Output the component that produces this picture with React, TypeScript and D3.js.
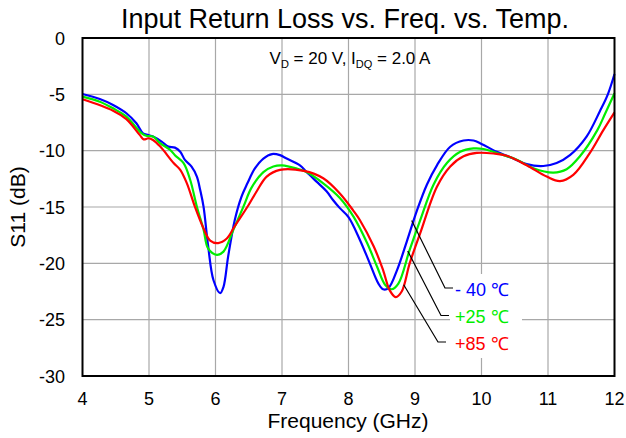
import React from "react";
import * as d3 from "d3";

const title = "Input Return Loss vs. Freq. vs. Temp.";
const xTicks = [4, 5, 6, 7, 8, 9, 10, 11, 12];
const yTicks = [0, -5, -10, -15, -20, -25, -30];

const freqM40 = [4.0, 4.26, 4.46, 4.66, 4.81, 4.91, 4.99, 5.06, 5.19, 5.29, 5.39, 5.47, 5.54, 5.64, 5.72, 5.77, 5.82, 5.89, 5.97, 6.07, 6.12, 6.19, 6.29, 6.39, 6.48, 6.59, 6.72, 6.85, 6.97, 7.07, 7.27, 7.37, 7.52, 7.67, 7.77, 7.87, 8.0, 8.17, 8.32, 8.45, 8.52, 8.6, 8.73, 8.88, 9.03, 9.18, 9.33, 9.53, 9.73, 9.88, 10.0, 10.23, 10.48, 10.68, 10.93, 11.13, 11.33, 11.58, 11.78, 11.9, 12.0];
const s11M40 = [-4.97, -5.41, -5.94, -6.68, -7.57, -8.46, -8.61, -8.75, -9.2, -9.64, -9.73, -10.09, -10.82, -11.42, -12.3, -13.5, -14.97, -18.5, -21.5, -22.65, -22.1, -19.4, -16.15, -14.1, -12.9, -11.6, -10.7, -10.3, -10.4, -10.7, -11.3, -11.9, -12.75, -13.6, -14.4, -15.1, -15.9, -17.9, -20.0, -21.8, -22.3, -22.2, -20.6, -18.0, -15.3, -13.0, -11.3, -9.65, -9.1, -9.1, -9.4, -10.1, -10.7, -11.2, -11.36, -11.1, -10.4, -8.75, -6.5, -5.0, -3.2];

const freqP25 = [4.0, 4.26, 4.46, 4.66, 4.89, 4.97, 5.06, 5.17, 5.32, 5.39, 5.52, 5.62, 5.72, 5.82, 5.89, 6.02, 6.12, 6.27, 6.42, 6.54, 6.72, 6.87, 7.0, 7.23, 7.37, 7.62, 7.87, 8.08, 8.28, 8.43, 8.55, 8.65, 8.75, 8.92, 9.08, 9.28, 9.48, 9.68, 9.88, 10.03, 10.28, 10.53, 10.78, 11.08, 11.28, 11.48, 11.74, 11.86, 12.0];
const s11P25 = [-5.2, -5.65, -6.24, -6.98, -8.46, -8.7, -8.75, -9.35, -9.94, -10.4, -11.1, -12.6, -14.97, -17.0, -18.7, -19.25, -18.96, -17.0, -14.97, -13.3, -11.9, -11.4, -11.3, -11.6, -11.9, -12.9, -14.2, -15.9, -18.2, -20.3, -21.9, -22.3, -21.8, -18.8, -16.15, -13.0, -11.1, -10.1, -9.8, -9.85, -10.3, -10.8, -11.56, -11.95, -11.65, -10.5, -8.2, -6.7, -4.9];

const freqP85 = [4.0, 4.46, 4.66, 4.86, 4.92, 4.99, 5.06, 5.17, 5.37, 5.47, 5.57, 5.69, 5.82, 5.92, 6.04, 6.17, 6.29, 6.5, 6.62, 6.77, 6.97, 7.33, 7.62, 7.87, 8.07, 8.17, 8.38, 8.52, 8.62, 8.71, 8.8, 8.92, 9.08, 9.33, 9.53, 9.73, 9.93, 10.18, 10.38, 10.68, 10.98, 11.18, 11.38, 11.63, 11.83, 12.0];
const s11P85 = [-5.44, -6.45, -7.2, -8.6, -9.0, -8.9, -9.05, -9.64, -11.1, -11.7, -12.9, -14.97, -16.9, -17.98, -18.2, -17.8, -16.7, -14.8, -13.6, -12.3, -11.7, -11.8, -12.45, -13.8, -15.3, -16.15, -18.5, -20.6, -22.4, -23.0, -22.5, -20.0, -17.3, -13.2, -11.4, -10.5, -10.2, -10.25, -10.45, -11.3, -12.3, -12.7, -12.15, -10.2, -8.2, -6.6];

const seriesNames = ["- 40 \u2103", "+25 \u2103", "+85 \u2103"];
const seriesColors = ["#0000ff", "#00ee00", "#ff0000"];
// leader anchor frequencies and values (on each curve)
const leaderFreq = [8.95, 8.89, 8.83];
const leaderVal = [-16.2, -18.9, -21.9];

export default function App() {
  const W = 626, H = 438;
  const L = 82.5, R = 614.5, T = 38, B = 376;
  const x = d3.scaleLinear().domain([4, 12]).range([L, R]);
  const y = d3.scaleLinear().domain([0, -30]).range([T, B]);
  const line = d3
    .line<[number, number]>()
    .x((d) => x(d[0]))
    .y((d) => y(d[1]))
    .curve(d3.curveCatmullRom.alpha(0.5));
  const series = [
    { f: freqM40, v: s11M40 },
    { f: freqP25, v: s11P25 },
    { f: freqP85, v: s11P85 },
  ];
  const font = "Liberation Sans, Arial, sans-serif";
  const labelY = [289, 316.5, 343];
  const labelElbowX = [445, 441, 438];
  return (
    <svg width={W} height={H} style={{ position: "absolute", left: 0, top: 0, background: "#fff" }} fontFamily={font}>
      <rect x={0} y={0} width={W} height={H} fill="#fff" />
      <text x={345} y={28} fontSize={27} textAnchor="middle" fill="#000">{title}</text>
      {xTicks.slice(1, -1).map((t) => (
        <line key={"gx" + t} x1={x(t)} x2={x(t)} y1={T} y2={B} stroke="#a8a8a8" strokeWidth={1.2} />
      ))}
      {yTicks.slice(1, -1).map((t) => (
        <line key={"gy" + t} x1={L} x2={R} y1={y(t)} y2={y(t)} stroke="#a8a8a8" strokeWidth={1.2} />
      ))}
      <rect x={450} y={274} width={72} height={84} fill="#fff" />
      {series.map((s, i) => (
        <path
          key={i}
          d={line(s.f.map((f, k) => [f, s.v[k]] as [number, number])) || ""}
          fill="none"
          stroke={seriesColors[i]}
          strokeWidth={2.2}
        />
      ))}
      {series.map((s, i) => (
        <g key={"lg" + i}>
          <polyline
            points={`${x(leaderFreq[i])},${y(leaderVal[i])} ${labelElbowX[i]},${labelY[i] - 1} ${labelElbowX[i] + 8},${labelY[i] - 1}`}
            fill="none"
            stroke="#000"
            strokeWidth={1.2}
          />
          <text x={455} y={labelY[i] + 6.5} fontSize={18} fill={seriesColors[i]}>{seriesNames[i]}</text>
        </g>
      ))}
      <text x={350} y={64} fontSize={17} textAnchor="middle" fill="#000">
        V<tspan fontSize={11} dy={4}>D</tspan><tspan dy={-4}> = 20 V, I</tspan><tspan fontSize={11} dy={4}>DQ</tspan><tspan dy={-4}> = 2.0 A</tspan>
      </text>
      <rect x={L} y={T} width={R - L} height={B - T} fill="none" stroke="#000" strokeWidth={2} />
      {yTicks.map((t) => (
        <text key={"yl" + t} x={65} y={y(t) + 6.5} fontSize={18} textAnchor="end" fill="#000">{t}</text>
      ))}
      {xTicks.map((t) => (
        <text key={"xl" + t} x={x(t)} y={405} fontSize={18} textAnchor="middle" fill="#000">{t}</text>
      ))}
      <text x={348} y={428} fontSize={21} textAnchor="middle" fill="#000">Frequency (GHz)</text>
      <text transform={`translate(25, ${(T + B) / 2}) rotate(-90)`} fontSize={21} textAnchor="middle" fill="#000">S11 (dB)</text>
    </svg>
  );
}
